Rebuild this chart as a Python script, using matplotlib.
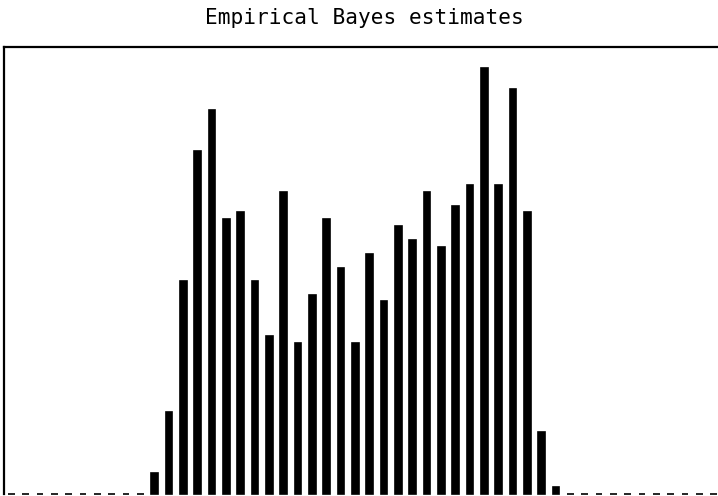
import matplotlib.pyplot as plt
import numpy as np

# Histogram bins of the empirical Bayes estimates (zeros at both tails)
bins = np.arange(50)
counts = [
    0, 0, 0, 0, 0, 0, 0, 0, 0, 0,
    2.05, 8.15, 21.25, 34.25, 38.35, 27.45, 28.15, 21.25, 15.75, 30.15,
    15.05, 19.85, 27.45, 22.55, 15.05, 23.95, 19.25, 26.75, 25.35, 30.15,
    24.65, 28.75, 30.85, 42.55, 30.85, 40.45, 28.15, 6.15, 0.65,
    0, 0, 0, 0, 0, 0, 0, 0, 0, 0, 0,
]
title = "Empirical Bayes estimates"

fig = plt.figure(figsize=(7.18, 4.96), dpi=100)
ax = fig.add_axes([4.3 / 718, 2.5 / 496, 716.5 / 718, 446.5 / 496])

bars = ax.bar(bins, counts, width=0.46, color="black", edgecolor="black",
              linewidth=1.2)
for b in bars:
    b.set_clip_on(False)

ax.set_xlim(-0.5, 49.5)
ax.set_ylim(0, 44.65)
ax.set_xticks([])
ax.set_yticks([])
for side in ["right", "bottom"]:
    ax.spines[side].set_visible(False)
for side in ["left", "top"]:
    ax.spines[side].set_linewidth(1.6)

fig.text(364 / 718, 1 - 17.5 / 496, title, ha="center", va="center",
         family="DejaVu Sans Mono", fontsize=15.2)

fig.savefig("out.png", dpi=100)
